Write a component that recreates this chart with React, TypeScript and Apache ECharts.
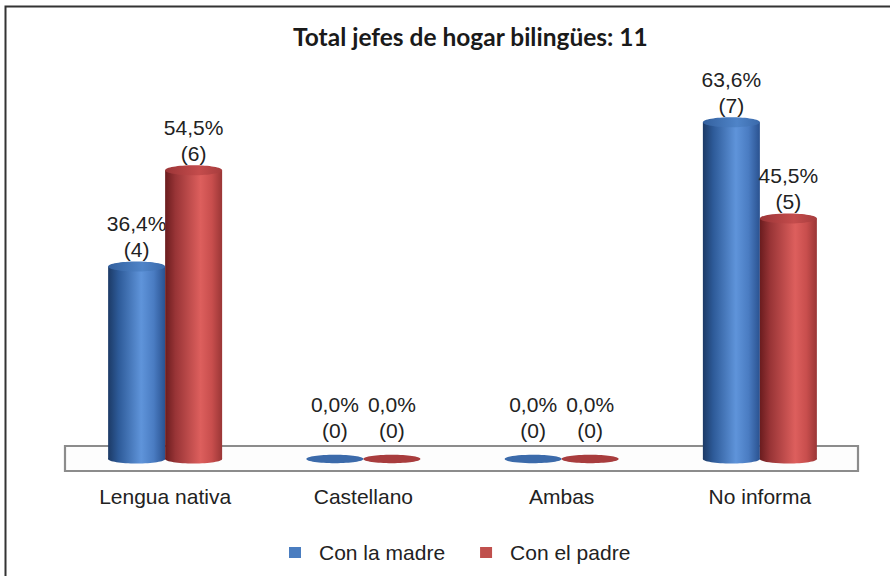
import { useEffect, useRef } from "react";
import * as echarts from "echarts";

const categories = ["Lengua nativa", "Castellano", "Ambas", "No informa"];
const seriesNames = ["Con la madre", "Con el padre"];
const madreCounts = [4, 0, 0, 7];
const padreCounts = [6, 0, 0, 5];
const madrePct = ["36,4%", "0,0%", "0,0%", "63,6%"];
const padrePct = ["54,5%", "0,0%", "0,0%", "45,5%"];
const titleText = "Total jefes de hogar bilingües: 11";

const FONT = "'Liberation Sans', Arial, sans-serif";

const palettes = [
  {
    base: "#4a7dc0",
    body: [
      [0, "#1c3a66"],
      [0.18, "#2d5a98"],
      [0.58, "#5f94da"],
      [0.8, "#4a7cc2"],
      [1, "#2a5290"],
    ],
    top: [
      [0, "#33609e"],
      [0.6, "#4f84c8"],
      [1, "#3a69aa"],
    ],
    flat: "#3b6aaa",
  },
  {
    base: "#c0504d",
    body: [
      [0, "#6a1c1e"],
      [0.18, "#983436"],
      [0.62, "#dd5f5d"],
      [0.82, "#c84e4d"],
      [1, "#9a3636"],
    ],
    top: [
      [0, "#9c3537"],
      [0.6, "#c44c4c"],
      [1, "#a63c3d"],
    ],
    flat: "#a83c3d",
  },
];

function grad(stops: any[]) {
  return new echarts.graphic.LinearGradient(
    0,
    0,
    1,
    0,
    stops.map((s) => ({ offset: s[0], color: s[1] }))
  );
}

function makeRender(idx: number, pcts: string[]) {
  const pal = palettes[idx];
  return (params: any, api: any) => {
    const ci = api.value(0);
    const v = api.value(1);
    const base = api.coord([ci, 0]);
    const top = api.coord([ci, v]);
    const band = api.size([1, 0])[0];
    const w = band * 0.2875;
    const cx = base[0] + (idx === 0 ? -w / 2 : w / 2);
    const x0 = cx - w / 2;
    const children: any[] = [];
    if (v > 0) {
      children.push({
        type: "ellipse",
        shape: { cx, cy: base[1], rx: w / 2, ry: 4.5 },
        style: { fill: grad(pal.body) },
      });
      children.push({
        type: "rect",
        shape: { x: x0, y: top[1], width: w, height: base[1] - top[1] },
        style: { fill: grad(pal.body) },
      });
      children.push({
        type: "ellipse",
        shape: { cx, cy: top[1], rx: w / 2, ry: 5 },
        style: { fill: grad(pal.top) },
      });
    } else {
      children.push({
        type: "ellipse",
        shape: { cx, cy: base[1], rx: w / 2, ry: 4.2 },
        style: { fill: pal.flat },
      });
    }
    const ty = v > 0 ? top[1] : base[1] - 12;
    children.push({
      type: "text",
      x: cx,
      y: ty - 43,
      style: {
        text: pcts[params.dataIndex],
        fontSize: 21,
        fontFamily: FONT,
        fill: "#222",
        align: "center",
        verticalAlign: "middle",
      },
    });
    children.push({
      type: "text",
      x: cx,
      y: ty - 17,
      style: {
        text: "(" + v + ")",
        fontSize: 21,
        fontFamily: FONT,
        fill: "#222",
        align: "center",
        verticalAlign: "middle",
      },
    });
    return { type: "group", children };
  };
}

export default function App() {
  const ref = useRef<HTMLDivElement>(null);
  useEffect(() => {
    if (!ref.current) return;
    const chart = echarts.init(ref.current, null, { renderer: "svg" });
    chart.setOption({
      animation: false,
      backgroundColor: "#ffffff",
      color: [palettes[0].base, palettes[1].base],
      title: {
        text: titleText,
        left: 293,
        top: 24,
        padding: 0,
        textStyle: {
          fontFamily: "Lato, 'Open Sans', sans-serif",
          fontWeight: "bold",
          fontSize: 24.5,
          color: "#1a1a1a",
        },
      },
      legend: {
        data: seriesNames,
        left: 289,
        top: 542,
        padding: 0,
        itemWidth: 12,
        itemHeight: 11,
        itemGap: 35,
        icon: "rect",
        textStyle: {
          fontSize: 21,
          fontFamily: FONT,
          color: "#222",
          padding: [0, 0, 0, 13],
        },
      },
      grid: { left: 66, right: 31, top: 74, bottom: 117 },
      xAxis: {
        type: "category",
        data: categories,
        axisLine: { show: false },
        axisTick: { show: false },
        axisLabel: {
          fontSize: 21,
          fontFamily: FONT,
          color: "#222",
          margin: 27,
        },
      },
      yAxis: {
        type: "value",
        min: 0,
        max: 8,
        show: false,
        splitLine: { show: false },
      },
      graphic: [
        {
          type: "rect",
          shape: { x: 5.5, y: 6.5, width: 950, height: 650 },
          style: { fill: "none", stroke: "#333", lineWidth: 2 },
          z: 100,
          silent: true,
        },
        {
          type: "rect",
          shape: { x: 65, y: 446, width: 793, height: 25 },
          style: { fill: "#fdfdfd", stroke: "#8c8c8c", lineWidth: 2.2 },
          z: -1,
          silent: true,
        },
      ],
      series: [
        {
          name: seriesNames[0],
          type: "custom",
          itemStyle: { color: palettes[0].base },
          encode: { x: 0, y: 1 },
          data: madreCounts.map((v, i) => [i, v]),
          renderItem: makeRender(0, madrePct),
          z: 5,
        },
        {
          name: seriesNames[1],
          type: "custom",
          itemStyle: { color: palettes[1].base },
          encode: { x: 0, y: 1 },
          data: padreCounts.map((v, i) => [i, v]),
          renderItem: makeRender(1, padrePct),
          z: 5,
        },
      ],
    });
    return () => chart.dispose();
  }, []);
  return (
    <div
      ref={ref}
      style={{ position: "absolute", left: 0, top: 0, width: 890, height: 576 }}
    />
  );
}
